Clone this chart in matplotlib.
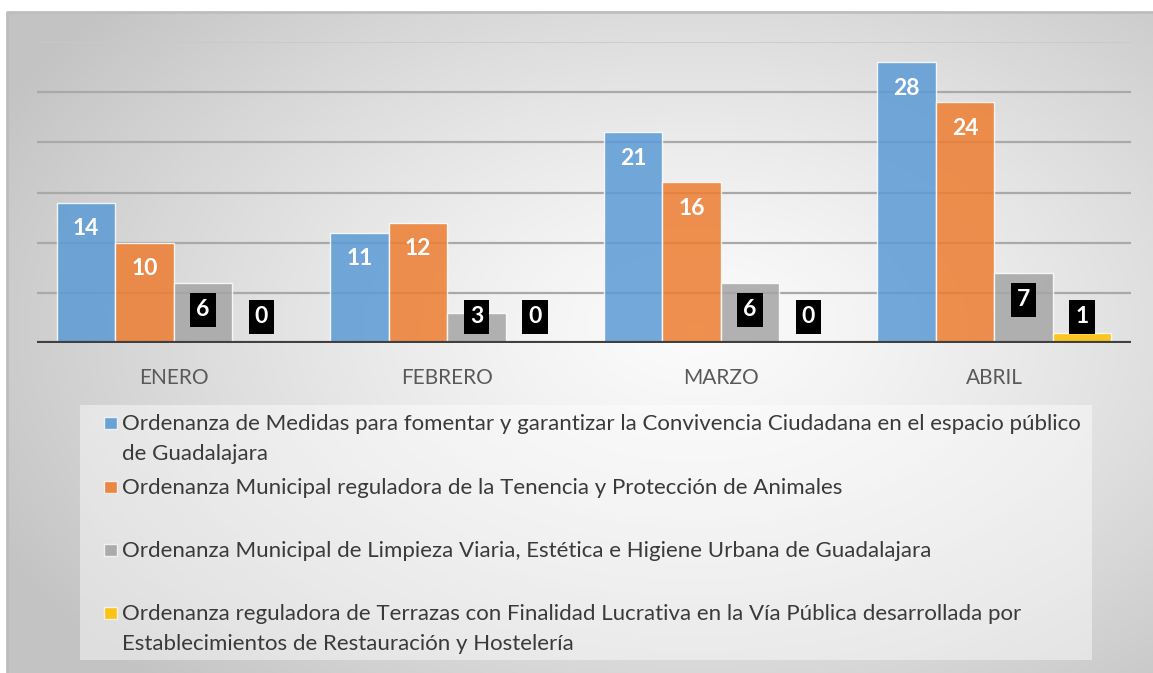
import numpy as np
import matplotlib.pyplot as plt
from matplotlib.patches import Rectangle

# data
months = ['ENERO', 'FEBRERO', 'MARZO', 'ABRIL']
convivencia = [14, 11, 21, 28]
animales = [10, 12, 16, 24]
limpieza = [6, 3, 6, 7]
terrazas = [0, 0, 0, 1]

series_names = [
    'Ordenanza de Medidas para fomentar y garantizar la Convivencia Ciudadana en el espacio público\nde Guadalajara',
    'Ordenanza Municipal reguladora de la Tenencia y Protección de Animales',
    'Ordenanza Municipal de Limpieza Viaria, Estética e Higiene Urbana de Guadalajara',
    'Ordenanza reguladora de Terrazas con Finalidad Lucrativa en la Vía Pública desarrollada por\nEstablecimientos de Restauración y Hostelería',
]
colors = ['#5B9BD5', '#ED7D31', '#A5A5A5', '#FFC000']
values = [convivencia, animales, limpieza, terrazas]

W, H = 1153, 673
plt.rcParams['font.family'] = ['Lato', 'DejaVu Sans']

fig = plt.figure(figsize=(W / 100, H / 100), dpi=100)
fig.patch.set_facecolor('white')


def fx(x):
    return x / W


def fy(y):
    return 1 - y / H


# background panel with radial gradient
bg = fig.add_axes([fx(7), 0, 1 - fx(7), fy(12)])
bg.set_axis_off()
gx, gy = np.meshgrid(np.linspace(0, 1, 400), np.linspace(0, 1, 250))
d = np.sqrt(((gx - 0.6) / 0.55) ** 2 + ((gy - 0.48) / 0.6) ** 2)
shade = 0.985 - 0.22 * np.clip(d / 1.25, 0, 1) ** 1.3
bg.imshow(np.dstack([shade] * 3), aspect='auto', extent=[0, 1, 0, 1],
          origin='upper', interpolation='bilinear')
bg.set_xlim(0, 1)
bg.set_ylim(0, 1)
bg.plot([0, 0, 1], [0, 1, 1], color='#bdbdbd', lw=2, clip_on=False)

# main chart
ax = fig.add_axes([fx(37), fy(343), fx(1131) - fx(37), fy(42) - fy(343)])
ax.set_facecolor('none')
ax.set_xlim(-0.5, 3.5)
ax.set_ylim(0, 30)
for g in [5, 10, 15, 20, 25]:
    ax.axhline(g, color='#a9a9a9', lw=1.6, zorder=1)
ax.axhline(30, color='#c9c9c9', lw=1.2, zorder=1)
ax.axhline(0, color='#404040', lw=3, zorder=4)
for s in ax.spines.values():
    s.set_visible(False)
ax.set_yticks([])
x = np.arange(len(months))
ax.set_xticks(x)
ax.set_xticklabels(months, fontsize=15, color='#595959')
ax.tick_params(axis='x', length=0, pad=18)

bw = 0.214
for i, (vals, c) in enumerate(zip(values, colors)):
    xs = x + (i - 1.5) * bw
    ax.bar(xs, vals, width=bw, color=c, alpha=0.85, edgecolor='white',
           linewidth=1.0, zorder=2)
    for xi, v in zip(xs, vals):
        if i < 2:
            ax.annotate(str(v), (xi, v), xytext=(0, -26), textcoords='offset pixels',
                        ha='center', va='center', color='white', fontsize=16.5,
                        fontweight='bold', zorder=5)
        else:
            yc = max(v - 2.7, 2.6)
            ax.text(xi, yc, str(v), ha='center', va='center', color='white',
                    fontsize=16.5, fontweight='bold', zorder=5,
                    bbox=dict(boxstyle='square,pad=0.27', fc='black', ec='none'))

# legend panel
fig.patches.append(Rectangle((fx(80), fy(660)), fx(1092) - fx(80), fy(405) - fy(660),
                             transform=fig.transFigure, facecolor='white',
                             alpha=0.45, edgecolor='none', zorder=1))
rows = [423, 487, 550, 613]
for name, c, ry in zip(series_names, colors, rows):
    fig.patches.append(Rectangle((fx(104), fy(ry + 6)), fx(13), 12 / H,
                                 transform=fig.transFigure, facecolor=c,
                                 edgecolor='#f5f5f5', lw=1, alpha=0.9, zorder=2))
    fig.text(fx(122), fy(ry - 9), name, ha='left', va='top', fontsize=16,
             color='#3a3a3a', linespacing=1.62, transform=fig.transFigure,
             zorder=3)

fig.savefig('out.png', dpi=100)
